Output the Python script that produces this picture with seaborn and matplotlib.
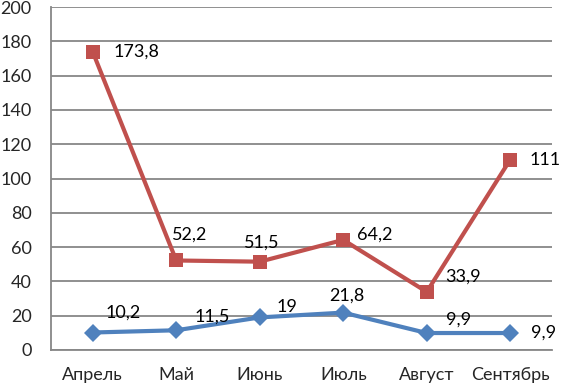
import matplotlib
matplotlib.use("Agg")
import matplotlib.pyplot as plt
import seaborn as sns
import pandas as pd

months = ["Апрель", "Май", "Июнь", "Июль", "Август", "Сентябрь"]
red_values = [173.8, 52.2, 51.5, 64.2, 33.9, 111]
blue_values = [10.2, 11.5, 19, 21.8, 9.9, 9.9]
y_ticks = [0, 20, 40, 60, 80, 100, 120, 140, 160, 180, 200]

# label offsets in pixels (style only)
red_offsets = [(21, 0), (-4, 26), (-16, 19), (14, 5), (18, 15), (19, 0)]
blue_offsets = [(13, 20), (18, 14), (17, 10), (-14, 17), (19, 13), (21, 0)]

sns.set_theme(style="white")
plt.rcParams['font.family'] = ['Lato', 'DejaVu Sans']
FS = 13

df = pd.DataFrame({
    "idx": list(range(len(months))) * 2,
    "value": red_values + blue_values,
    "series": ["red"] * len(months) + ["blue"] * len(months),
})

fig = plt.figure(figsize=(5.61, 3.88), dpi=100)
ax = fig.add_axes([51 / 561, 38 / 388, (552 - 51) / 561, (350 - 7) / 388])

ax.set_axisbelow(True)
ax.yaxis.grid(True, color="#878787", linewidth=1.3)
ax.xaxis.grid(False)

palette = {"red": "#C0504D", "blue": "#4F81BD"}
markers = {"red": "s", "blue": "D"}
sns.lineplot(data=df, x="idx", y="value", hue="series", style="series",
             palette=palette, markers=markers, dashes=False, sort=False,
             linewidth=3, markersize=10.5, markeredgewidth=0, legend=False, ax=ax)
for line in ax.lines:
    if line.get_marker() == "D":
        line.set_markersize(9)

def fmt(v):
    return ("%g" % v).replace(".", ",")

for i, v in enumerate(red_values):
    dx, dy = red_offsets[i]
    ax.annotate(fmt(v), (i, v), xytext=(dx, dy), textcoords="offset pixels",
                ha="left", va="center", fontsize=FS, color="black")
for i, v in enumerate(blue_values):
    dx, dy = blue_offsets[i]
    ax.annotate(fmt(v), (i, v), xytext=(dx, dy), textcoords="offset pixels",
                ha="left", va="center", fontsize=FS, color="black")

ax.set_xlim(-0.5, len(months) - 0.5)
ax.set_ylim(0, 200)
ax.set_yticks(y_ticks)
ax.set_yticklabels([str(t) for t in y_ticks], fontsize=FS)
ax.set_xticks(range(len(months)))
ax.set_xticklabels(months, fontsize=FS)
ax.tick_params(axis="y", length=0, pad=14)
ax.tick_params(axis="x", length=0, pad=12)
ax.set_xlabel("")
ax.set_ylabel("")
for s in ["top", "right"]:
    ax.spines[s].set_visible(False)
for s in ["left", "bottom"]:
    ax.spines[s].set_color("#878787")
    ax.spines[s].set_linewidth(1.3)

fig.savefig("out.png", dpi=100)
